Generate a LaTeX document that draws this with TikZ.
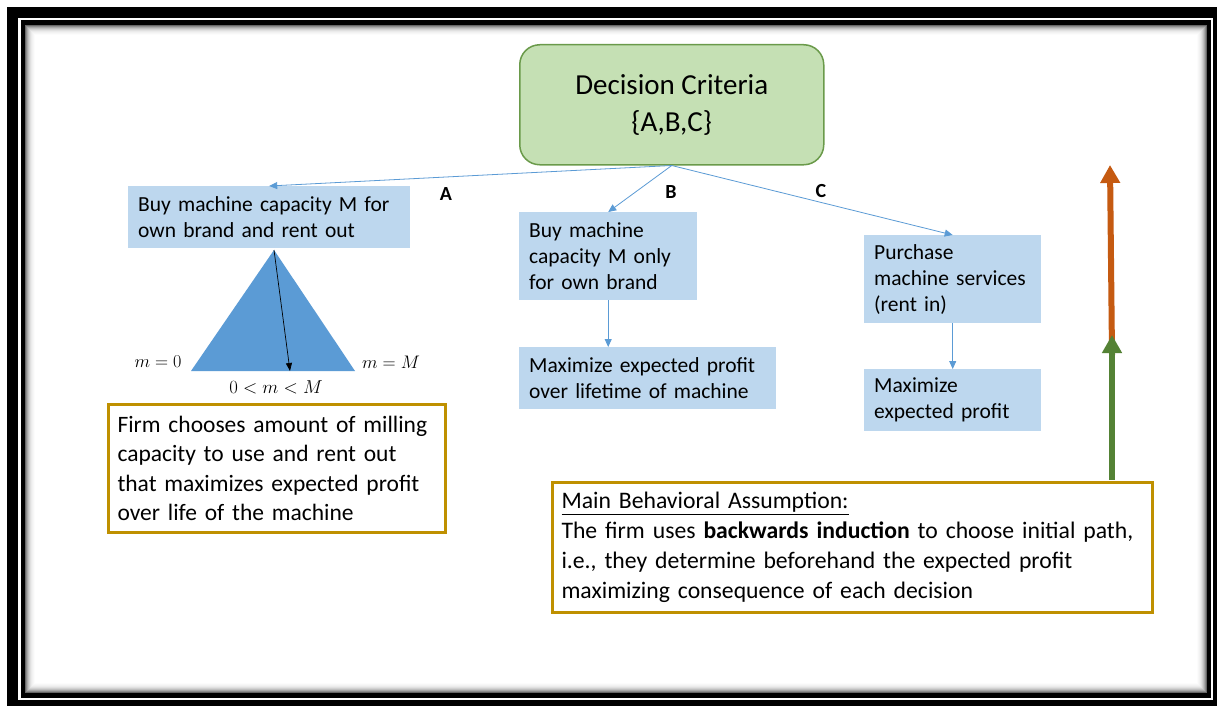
\documentclass[tikz,border=0pt]{standalone}
\usepackage{fontspec}
\setmainfont{Carlito}
\usetikzlibrary{arrows.meta}
\definecolor{boxblue}{HTML}{BDD7EE}
\definecolor{arrblue}{HTML}{5B9BD5}
\definecolor{dcgreen}{HTML}{C5E0B4}
\definecolor{dcborder}{HTML}{6A9A4A}
\definecolor{goldc}{HTML}{BF9000}
\definecolor{orangeA}{HTML}{C55A11}
\definecolor{greenA}{HTML}{548235}
\begin{document}
\begin{tikzpicture}[x=1pt,y=-1pt,
  bluebox/.style={fill=boxblue, draw=none, inner xsep=10pt, inner ysep=0pt, align=left, anchor=north west, font=\fontsize{21.5}{26}\selectfont},
  goldbox/.style={fill=white, draw=goldc, line width=3pt, inner xsep=9pt, inner ysep=0pt, align=left, anchor=north west, font=\fontsize{23.5}{29.5}\selectfont},
  conn/.style={draw=arrblue, line width=0.8pt, -{Triangle[width=7pt,length=8pt]}},
  letter/.style={font=\fontsize{20}{22}\selectfont\bfseries},
  mathlbl/.style={font=\fontsize{17.28}{20}\selectfont, inner sep=0pt},
  bigarrow/.style={line width=6pt, -{Triangle[width=19pt,length=18pt]}}
]
\useasboundingbox (0,0) rectangle (1217,706);
% frame
\fill[white] (0,0) rectangle (1217,706);
\fill[black] (7,7) rectangle (1217,706);
\fill[white] (18,18) rectangle (1213,700);
\fill[black] (20.5,20.5) rectangle (1211,697.5);
\fill[white] (25,25) rectangle (1207,693);
\foreach \i/\c in {0/60,1/45,2/34,3/25,4/18,5/12,6/8,7/5,8/3,9/1}
  \draw[black!\c, line width=1pt] (25.5+\i,25.5+\i) rectangle (1206.5-\i,692.5-\i);

% decision criteria
\node[fill=dcgreen, draw=dcborder, line width=1.5pt, rounded corners=20pt,
  minimum width=304pt, minimum height=120pt, anchor=north west, align=center,
  font=\fontsize{29}{37}\selectfont] (dc) at (519,44) {Decision Criteria\\\{A,B,C\}};

% option boxes
\node[bluebox, text width=262pt, minimum height=62pt] (a) at (128,186) {Buy machine capacity M for\\own brand and rent out};
\node[bluebox, text width=158pt, minimum height=88pt] (b) at (519,212) {Buy machine\\capacity M only\\for own brand};
\node[bluebox, text width=157pt, minimum height=88pt] (c) at (864,235) {Purchase\\machine services\\(rent in)};
\node[bluebox, text width=237pt, minimum height=62pt] (b2) at (519,347) {Maximize expected profit\\over lifetime of machine};
\node[bluebox, text width=157pt, minimum height=62pt] (c2) at (864,369) {Maximize\\expected profit};

% connectors
\draw[conn] (dc.south) -- (a.north);
\draw[conn] (dc.south) -- (b.north);
\draw[conn] (dc.south) -- (c.north);
\draw[conn] (b.south) -- (b.south |- b2.north);
\draw[conn] (c.south) -- (c2.north);
\node[letter] (la) at (446,194) {A};
\node[letter] (lb) at (671,192) {B};
\node[letter] (lc) at (821,191) {C};

% triangle
\coordinate (tA) at (274,250);
\coordinate (tL) at (191,371);
\coordinate (tR) at (355,371);
\coordinate (tM) at (290,371);
\fill[arrblue] (tA) -- (tL) -- (tR) -- cycle;
\draw[black, line width=0.7pt, -{Triangle[width=6pt,length=8pt]}] (tA) -- (tM);
\node[mathlbl] (m0) at (158,362) {\scalebox{1.05}{$m=0$}};
\node[mathlbl] (mM) at (391,362) {\scalebox{1.05}{$m=M$}};
\node[mathlbl] (mm) at (276,387) {\scalebox{1.08}{$0<m<M$}};

% gold boxes
\node[goldbox, text width=319pt, minimum height=128pt] (firm) at (107,403) {Firm chooses amount of milling\\capacity to use and rent out\\that maximizes expected profit\\over life of the machine};
\node[goldbox, font=\fontsize{23.7}{30}\selectfont, text width=582pt, minimum height=130pt] (main) at (551,481) {\underline{Main Behavioral Assumption:}\\The firm uses \textbf{backwards induction} to choose initial path,\\i.e., they determine beforehand the expected profit\\maximizing consequence of each decision};

% right arrows
\coordinate (g0) at (1112,479.5);
\coordinate (g1) at (1112,335);
\coordinate (o1) at (1110,165);
\draw[bigarrow, orangeA] ([yshift=-20pt]g1) -- (o1);
\draw[bigarrow, greenA] (g0) -- (g1);
\end{tikzpicture}
\end{document}
